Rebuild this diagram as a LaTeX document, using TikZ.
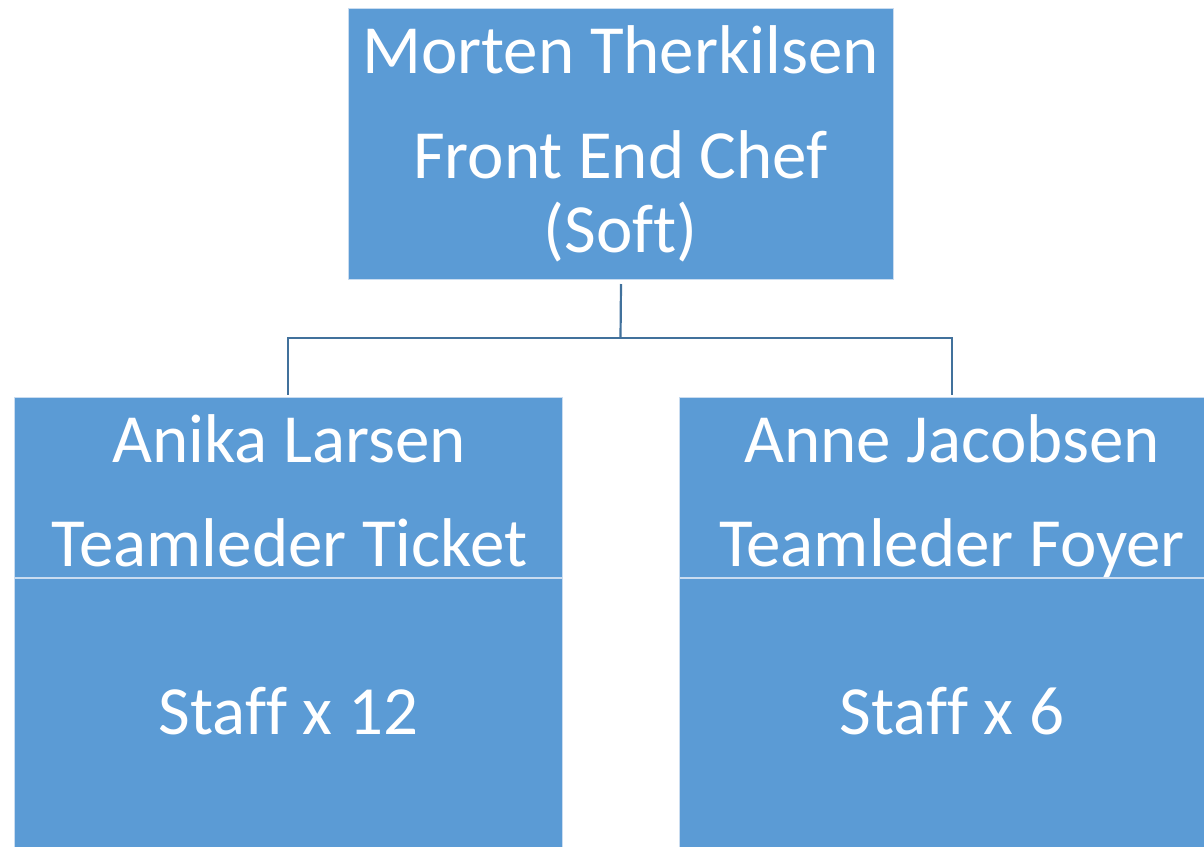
\documentclass[tikz,border=0pt]{standalone}
\usepackage{fontspec}
\setmainfont[Ligatures={NoCommon,NoContextual}]{Carlito}
\definecolor{boxfill}{HTML}{5B9BD5}
\definecolor{boxedge}{HTML}{C9DCF0}
\definecolor{linecol}{HTML}{41719C}
\tikzset{
  box/.style={rectangle, fill=boxfill, draw=boxedge, line width=1pt, inner sep=0pt, anchor=north west},
  lbl/.style={text=white, anchor=base, inner sep=0pt, font=\fontsize{69}{82}\selectfont},
  conn/.style={draw=linecol, line width=2.2pt}
}
\begin{document}
\begin{tikzpicture}[x=1pt,y=-1pt]
\useasboundingbox (0,0) rectangle (1204,846);
\clip (0,0) rectangle (1204,846);
\fill[white] (0,0) rectangle (1204,846);
% boxes
\node[box, minimum width=545pt, minimum height=271pt] (top) at (348,8) {};
\node[box, minimum width=548pt, minimum height=180pt] (la) at (14,397) {};
\node[box, minimum width=548pt, minimum height=280pt] (lb) at (14,578) {};
\node[box, minimum width=546pt, minimum height=180pt] (ra) at (679,397) {};
\node[box, minimum width=546pt, minimum height=280pt] (rb) at (679,578) {};
% texts
\node[lbl] (t1) at (620.5,73) {Morten Therkilsen};
\node[lbl] (t2) at (620.5,178) {Front End Chef};
\node[lbl] (t3) at (620.5,252) {(Sof\kern0pt t)};
\node[lbl] (l1) at (289,462) {Anika Larsen};
\node[lbl] (l2) at (289.5,566) {Teamleder Ticket};
\node[lbl] (l3) at (288.5,734) {Staf\kern0pt f x 12};
\node[lbl] (r1) at (952,462) {Anne Jacobsen};
\node[lbl] (r2) at (952,566) {Teamleder Foyer};
\node[lbl] (r3) at (952,734) {Staf\kern0pt f x 6};
% connectors
\coordinate (mid) at (620.5,338);
\coordinate (lt) at (288,395);
\coordinate (rt) at (952,395);
\draw[conn] ([yshift=-4pt]top.south) -- (mid);
\draw[conn] (mid) -| (lt);
\draw[conn] (mid) -| (rt);
\end{tikzpicture}
\end{document}
